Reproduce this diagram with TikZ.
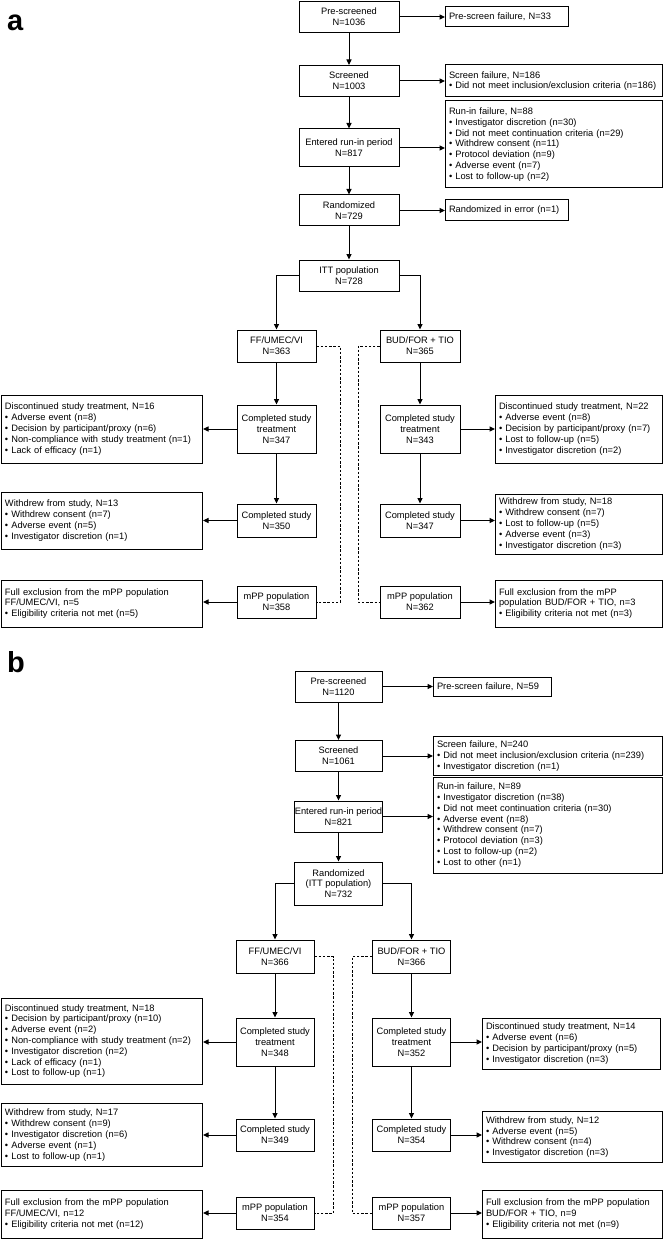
\documentclass[tikz,border=0pt]{standalone}
\usepackage{fontspec}
\setmainfont{Liberation Sans}
\usetikzlibrary{arrows.meta}
\newcommand{\fs}{\fontsize{9.3}{10.8}\selectfont}
\newcommand{\bl}{\textbullet\ }
\begin{document}
\begin{tikzpicture}[x=1pt,y=-1pt,
  box/.style={draw, line width=1pt, inner sep=0pt, font=\fs},
  cbox/.style={box, align=center},
  sbox/.style={box, align=left, inner xsep=3.5pt, anchor=west},
  arr/.style={line width=1pt, -{Triangle[length=5.5pt,width=5pt]}},
  dsh/.style={line width=0.75pt, dash pattern=on 2.4pt off 1.8pt},
  lbl/.style={font=\fontsize{29}{29}\selectfont\bfseries, anchor=base west, inner sep=0pt}]
\useasboundingbox (0,0) rectangle (666,1241);

% ================= Panel a =================
\node[lbl] (la) at (7,31) {a};
\node[cbox, minimum width=100pt, minimum height=31pt] (preA) at (349,17) {Pre-screened\\N=1036};
\node[cbox, minimum width=100pt, minimum height=31pt] (scrA) at (349,81) {Screened\\N=1003};
\node[cbox, minimum width=100pt, minimum height=38pt] (runA) at (349,148) {Entered run-in period\\N=817};
\node[cbox, minimum width=100pt, minimum height=31pt] (randA) at (349,210.5) {Randomized\\N=729};
\node[cbox, minimum width=100pt, minimum height=31pt] (ittA) at (349,275.5) {ITT population\\N=728};
\node[cbox, minimum width=79pt, minimum height=32pt] (ffA) at (276.5,346) {FF/UMEC/VI\\N=363};
\node[cbox, minimum width=80pt, minimum height=32pt] (budA) at (420,346) {BUD/FOR + TIO\\N=365};
\node[cbox, minimum width=79pt, minimum height=48pt] (cstffA) at (276.5,429) {Completed study\\treatment\\N=347};
\node[cbox, minimum width=80pt, minimum height=48pt] (cstbudA) at (420,429) {Completed study\\treatment\\N=343};
\node[cbox, minimum width=79pt, minimum height=33pt] (csffA) at (276.5,520.5) {Completed study\\N=350};
\node[cbox, minimum width=80pt, minimum height=33pt] (csbudA) at (420,520.5) {Completed study\\N=347};
\node[cbox, minimum width=79pt, minimum height=32pt] (mppffA) at (276.5,602) {mPP population\\N=358};
\node[cbox, minimum width=80pt, minimum height=32pt] (mppbudA) at (420,602) {mPP population\\N=362};

\node[sbox, text width=116pt, minimum height=20pt] (psfA) at (445,16.5) {Pre-screen failure, N=33};
\node[sbox, text width=210pt, minimum height=32pt] (sfA) at (445,81) {Screen failure, N=186\\\bl Did not meet inclusion/exclusion criteria (n=186)};
\node[sbox, text width=210pt, minimum height=87pt] (rfA) at (445,144.5) {Run-in failure, N=88\\\bl Investigator discretion (n=30)\\\bl Did not meet continuation criteria (n=29)\\\bl Withdrew consent (n=11)\\\bl Protocol deviation (n=9)\\\bl Adverse event (n=7)\\\bl Lost to follow-up (n=2)};
\node[sbox, text width=116pt, minimum height=21pt] (rieA) at (445,210.5) {Randomized in error (n=1)};
\node[sbox, text width=194pt, minimum height=68pt] (disffA) at (1,429) {Discontinued study treatment, N=16\\\bl Adverse event (n=8)\\\bl Decision by participant/proxy (n=6)\\\bl Non-compliance with study treatment (n=1)\\\bl Lack of efficacy (n=1)};
\node[sbox, text width=160pt, minimum height=68pt] (disbudA) at (495,429) {Discontinued study treatment, N=22\\\bl Adverse event (n=8)\\\bl Decision by participant/proxy (n=7)\\\bl Lost to follow-up (n=5)\\\bl Investigator discretion (n=2)};
\node[sbox, text width=194pt, minimum height=57pt] (wdffA) at (1,520.5) {Withdrew from study, N=13\\\bl Withdrew consent (n=7)\\\bl Adverse event (n=5)\\\bl Investigator discretion (n=1)};
\node[sbox, text width=160pt, minimum height=60pt] (wdbudA) at (495,524) {Withdrew from study, N=18\\\bl Withdrew consent (n=7)\\\bl Lost to follow-up (n=5)\\\bl Adverse event (n=3)\\\bl Investigator discretion (n=3)};
\node[sbox, text width=194pt, minimum height=47pt] (feffA) at (1,603.5) {Full exclusion from the mPP population\\FF/UMEC/VI, n=5\\\bl Eligibility criteria not met (n=5)};
\node[sbox, text width=160pt, minimum height=47pt] (febudA) at (495,603.5) {Full exclusion from the mPP\\population BUD/FOR + TIO, n=3\\\bl Eligibility criteria not met (n=3)};

\draw[arr] (preA.south) -- (scrA.north);
\draw[arr] (scrA.south) -- (runA.north);
\draw[arr] (runA.south) -- (randA.north);
\draw[arr] (randA.south) -- (ittA.north);
\draw[arr] (preA.east) -- (psfA.west |- preA.east);
\draw[arr] (scrA.east) -- (sfA.west |- scrA.east);
\draw[arr] (runA.east) -- (rfA.west |- runA.east);
\draw[arr] (randA.east) -- (rieA.west |- randA.east);
\draw[arr] (ittA.west) -| (ffA.north);
\draw[arr] (ittA.east) -| (budA.north);
\draw[arr] (ffA.south) -- (cstffA.north);
\draw[arr] (budA.south) -- (cstbudA.north);
\draw[arr] (cstffA.south) -- (csffA.north);
\draw[arr] (cstbudA.south) -- (csbudA.north);
\draw[arr] (cstffA.west) -- (disffA.east |- cstffA.west);
\draw[arr] (cstbudA.east) -- (disbudA.west |- cstbudA.east);
\draw[arr] (csffA.west) -- (wdffA.east |- csffA.west);
\draw[arr] (csbudA.east) -- (wdbudA.west |- csbudA.east);
\draw[arr] (mppffA.west) -- (feffA.east |- mppffA.west);
\draw[arr] (mppbudA.east) -- (febudA.west |- mppbudA.east);
\coordinate (dAl) at (340,0);
\coordinate (dAr) at (358,0);
\draw[dsh] (ffA.east) -| (dAl |- mppffA.east) -- (mppffA.east);
\draw[dsh] (budA.west) -| (dAr |- mppbudA.west) -- (mppbudA.west);

% ================= Panel b =================
\node[lbl] (lb) at (7,672) {b};
\node[cbox, minimum width=87pt, minimum height=31pt] (preB) at (338.5,686.5) {Pre-screened\\N=1120};
\node[cbox, minimum width=87pt, minimum height=31pt] (scrB) at (338.5,756) {Screened\\N=1061};
\node[cbox, minimum width=87pt, minimum height=31pt] (runB) at (338.5,816.5) {Entered run-in period\\N=821};
\node[cbox, minimum width=88pt, minimum height=43pt] (randB) at (338.5,883.5) {Randomized\\(ITT population)\\N=732};
\node[cbox, minimum width=78pt, minimum height=33pt] (ffB) at (275,956.5) {FF/UMEC/VI\\N=366};
\node[cbox, minimum width=78pt, minimum height=33pt] (budB) at (411.5,956.5) {BUD/FOR + TIO\\N=366};
\node[cbox, minimum width=78pt, minimum height=48pt] (cstffB) at (275,1042) {Completed study\\treatment\\N=348};
\node[cbox, minimum width=78pt, minimum height=48pt] (cstbudB) at (411.5,1042) {Completed study\\treatment\\N=352};
\node[cbox, minimum width=78pt, minimum height=32pt] (csffB) at (275,1135) {Completed study\\N=349};
\node[cbox, minimum width=78pt, minimum height=32pt] (csbudB) at (411.5,1135) {Completed study\\N=354};
\node[cbox, minimum width=78pt, minimum height=32pt] (mppffB) at (275,1213) {mPP population\\N=354};
\node[cbox, minimum width=78pt, minimum height=32pt] (mppbudB) at (411.5,1213) {mPP population\\N=357};

\node[sbox, text width=111pt, minimum height=19pt] (psfB) at (433,686.5) {Pre-screen failure, N=59};
\node[sbox, text width=222pt, minimum height=39pt] (sfB) at (433,756) {Screen failure, N=240\\\bl Did not meet inclusion/exclusion criteria (n=239)\\\bl Investigator discretion (n=1)};
\node[sbox, text width=222pt, minimum height=96pt] (rfB) at (433,825) {Run-in failure, N=89\\\bl Investigator discretion (n=38)\\\bl Did not meet continuation criteria (n=30)\\\bl Adverse event (n=8)\\\bl Withdrew consent (n=7)\\\bl Protocol deviation (n=3)\\\bl Lost to follow-up (n=2)\\\bl Lost to other (n=1)};
\node[sbox, text width=194pt, minimum height=86pt] (disffB) at (1,1041) {Discontinued study treatment, N=18\\\bl Decision by participant/proxy (n=10)\\\bl Adverse event (n=2)\\\bl Non-compliance with study treatment (n=2)\\\bl Investigator discretion (n=2)\\\bl Lack of efficacy (n=1)\\\bl Lost to follow-up (n=1)};
\node[sbox, text width=171pt, minimum height=51pt] (disbudB) at (482,1043.5) {Discontinued study treatment, N=14\\\bl Adverse event (n=6)\\\bl Decision by participant/proxy (n=5)\\\bl Investigator discretion (n=3)};
\node[sbox, text width=194pt, minimum height=63pt] (wdffB) at (1,1135) {Withdrew from study, N=17\\\bl Withdrew consent (n=9)\\\bl Investigator discretion (n=6)\\\bl Adverse event (n=1)\\\bl Lost to follow-up (n=1)};
\node[sbox, text width=173pt, minimum height=51pt] (wdbudB) at (482,1137) {Withdrew from study, N=12\\\bl Adverse event (n=5)\\\bl Withdrew consent (n=4)\\\bl Investigator discretion (n=3)};
\node[sbox, text width=194pt, minimum height=48pt] (feffB) at (1,1214) {Full exclusion from the mPP population\\FF/UMEC/VI, n=12\\\bl Eligibility criteria not met (n=12)};
\node[sbox, text width=173pt, minimum height=48pt] (febudB) at (482,1214) {Full exclusion from the mPP population\\BUD/FOR + TIO, n=9\\\bl Eligibility criteria not met (n=9)};

\draw[arr] (preB.south) -- (scrB.north);
\draw[arr] (scrB.south) -- (runB.north);
\draw[arr] (runB.south) -- (randB.north);
\draw[arr] (preB.east) -- (psfB.west |- preB.east);
\draw[arr] (scrB.east) -- (sfB.west |- scrB.east);
\draw[arr] (runB.east) -- (rfB.west |- runB.east);
\draw[arr] (randB.west) -| (ffB.north);
\draw[arr] (randB.east) -| (budB.north);
\draw[arr] (ffB.south) -- (cstffB.north);
\draw[arr] (budB.south) -- (cstbudB.north);
\draw[arr] (cstffB.south) -- (csffB.north);
\draw[arr] (cstbudB.south) -- (csbudB.north);
\draw[arr] (cstffB.west) -- (disffB.east |- cstffB.west);
\draw[arr] (cstbudB.east) -- (disbudB.west |- cstbudB.east);
\draw[arr] (csffB.west) -- (wdffB.east |- csffB.west);
\draw[arr] (csbudB.east) -- (wdbudB.west |- csbudB.east);
\draw[arr] (mppffB.west) -- (feffB.east |- mppffB.west);
\draw[arr] (mppbudB.east) -- (febudB.west |- mppbudB.east);
\coordinate (dBl) at (333.5,0);
\coordinate (dBr) at (352,0);
\draw[dsh] (ffB.east) -| (dBl |- mppffB.east) -- (mppffB.east);
\draw[dsh] (budB.west) -| (dBr |- mppbudB.west) -- (mppbudB.west);
\end{tikzpicture}
\end{document}
